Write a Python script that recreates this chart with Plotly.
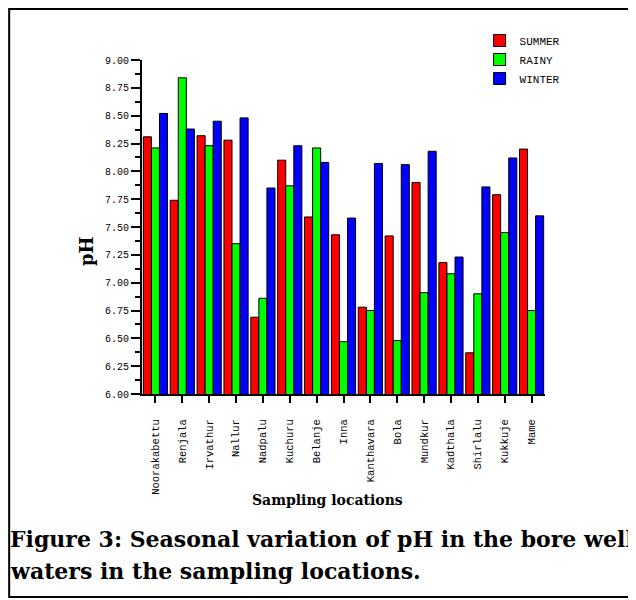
import plotly.graph_objects as go

locations = ["Noorakabettu", "Renjala", "Irvathur", "Nallur", "Nadpalu", "Kuchuru",
             "Belanje", "Inna", "Kanthavara", "Bola", "Mundkur", "Kadthala",
             "Shirlalu", "Kukkuje", "Mame"]
summer = [8.31, 7.74, 8.32, 8.28, 6.69, 8.10, 7.59, 7.43, 6.78, 7.42, 7.90, 7.18, 6.37, 7.79, 8.20]
rainy = [8.21, 8.84, 8.23, 7.35, 6.86, 7.87, 8.21, 6.47, 6.75, 6.48, 6.91, 7.08, 6.90, 7.45, 6.75]
winter = [8.52, 8.38, 8.45, 8.48, 7.85, 8.23, 8.08, 7.58, 8.07, 8.06, 8.18, 7.23, 7.86, 8.12, 7.60]
series_names = ["SUMMER", "RAINY", "WINTER"]
series_colors = ["#FF0000", "#00FF00", "#0000FF"]

# page is rendered with an 8px body margin
OFF = 8
W, H = 636 - OFF, 600 - OFF
L, R, T, B = 142 - OFF, 545.5 - OFF, 60 - OFF, 394 - OFF


def px(x):
    return (x - OFF - L) / (R - L)


def py(y):
    return (B - (y - OFF)) / (B - T)


fig = go.Figure()
for name, vals, col in zip(series_names, [summer, rainy, winter], series_colors):
    fig.add_trace(go.Bar(x=locations, y=vals, name=name,
                         marker=dict(color=col, line=dict(color="black", width=1))))

fig.update_layout(
    width=W, height=H,
    margin=dict(l=L, r=W - R, t=T, b=H - B),
    paper_bgcolor="white", plot_bgcolor="white",
    barmode="group", bargap=0.1, bargroupgap=0.0,
    showlegend=True,
    legend=dict(x=px(480), y=py(26), xanchor="left", yanchor="top",
                font=dict(family="Liberation Mono", size=11, color="black"),
                bgcolor="rgba(0,0,0,0)", tracegroupgap=0, itemwidth=30),
    xaxis=dict(type="category", range=[-0.5, 14.5], showline=True, linecolor="black",
               linewidth=2, ticks="outside", ticklen=7, tickwidth=2, tickcolor="black",
               tickangle=-90, tickfont=dict(family="Liberation Mono", size=10.5, color="black"),
               showgrid=False, zeroline=False, ticklabelstandoff=12),
    yaxis=dict(range=[6, 9], dtick=0.25, tick0=6, tickformat=".2f", showline=True,
               linecolor="black", linewidth=2, ticks="outside", ticklen=9, tickwidth=2,
               tickcolor="black", showgrid=False, zeroline=False,
               tickfont=dict(family="Liberation Mono", size=10, color="black"),
               minor=dict(dtick=0.125, ticks="outside", ticklen=5, tickwidth=2, tickcolor="black")),
    font=dict(family="DejaVu Serif", color="black"),
)

fig.add_annotation(text="<b>pH</b>", xref="paper", yref="paper", x=px(86), y=py(251),
                   textangle=-90, showarrow=False, xanchor="center", yanchor="middle",
                   font=dict(family="DejaVu Serif", size=18, color="black"))
fig.add_annotation(text="<b>Sampling locations</b>", xref="paper", yref="paper",
                   x=px(328), y=py(500), showarrow=False, xanchor="center", yanchor="middle",
                   font=dict(family="DejaVu Serif", size=14, color="black"))
fig.add_annotation(text="<b>Figure 3: Seasonal variation of pH in the bore well</b>",
                   xref="paper", yref="paper", x=px(8), y=py(539), showarrow=False,
                   xanchor="left", yanchor="middle",
                   font=dict(family="DejaVu Serif", size=22, color="black"))
fig.add_annotation(text="<b>waters in the sampling locations.</b>",
                   xref="paper", yref="paper", x=px(8), y=py(571), showarrow=False,
                   xanchor="left", yanchor="middle",
                   font=dict(family="DejaVu Serif", size=22, color="black"))

fig.add_shape(type="rect", xref="paper", yref="paper", x0=px(9), x1=px(660),
              y0=py(597), y1=py(9), line=dict(color="black", width=2),
              fillcolor="rgba(0,0,0,0)", layer="below")

fig.write_html("out.html")
